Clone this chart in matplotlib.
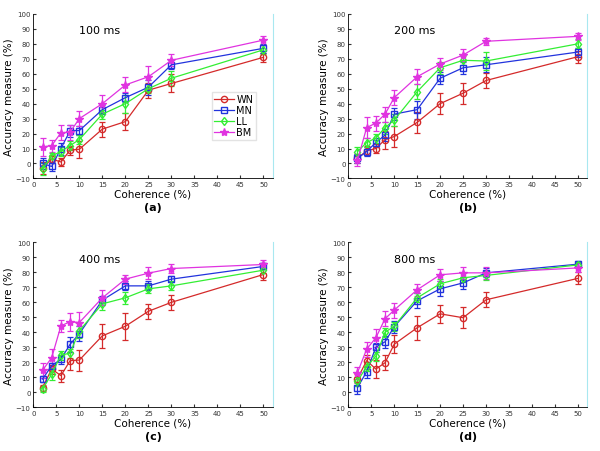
import numpy as np
import matplotlib.pyplot as plt
from matplotlib.lines import Line2D

# Coherence levels (%)
coherence = [2, 4, 6, 8, 10, 15, 20, 25, 30, 50]
methods = ['WN', 'MN', 'LL', 'BM']
durations = ['100 ms', '200 ms', '400 ms', '800 ms']
panel_labels = ['(a)', '(b)', '(c)', '(d)']

# accuracy means, one list per method, per panel
acc_100 = {
    'WN': [-3, 3, 1, 9, 9.5, 23, 28, 49, 53.5, 71],
    'MN': [0, -2, 10, 22, 22, 36, 44, 51, 66, 77],
    'LL': [-3.7, 5, 8, 12, 16, 33, 40, 50, 57, 76],
    'BM': [11, 12, 20.5, 21, 30, 40, 52.5, 58, 69, 82.5],
}
err_100 = {
    'WN': [4, 3, 3, 3, 5.5, 5, 5.5, 5, 6, 3],
    'MN': [4, 3, 4, 4, 3, 3, 3, 5, 3, 3],
    'LL': [4, 2, 3, 3, 3, 3, 6, 3, 5, 3],
    'BM': [6, 4, 5, 5, 5, 6, 5, 7, 4, 3],
}

acc_200 = {
    'WN': [3.4, 8.5, 10, 16, 18, 27.5, 40, 47, 55.5, 71.4],
    'MN': [3.4, 8, 14, 19, 33, 36, 57, 64, 66, 74.5],
    'LL': [8, 14, 17, 24, 29, 48, 64, 69, 68.5, 80],
    'BM': [2, 24, 27, 33, 44, 58, 66.5, 72.5, 81.7, 85],
}
err_200 = {
    'WN': [3, 3, 3, 6, 7, 7, 7, 7, 5, 4],
    'MN': [3, 3, 3, 4, 4, 6, 4, 4, 5, 3],
    'LL': [3, 3, 3, 4, 4, 5, 4, 3, 6, 3],
    'BM': [4, 7, 5, 5, 5, 5, 4, 4, 2.5, 2.5],
}

acc_400 = {
    'WN': [3, 15.4, 11, 21, 21.4, 37.6, 44, 54, 60, 78.6],
    'MN': [8.7, 17.6, 22, 32, 39, 61.5, 71, 71, 75.5, 84],
    'LL': [2, 12, 24.7, 26, 41, 59, 63, 69, 71, 81.5],
    'BM': [14.5, 23, 44.3, 47, 46.5, 63, 75.5, 79.5, 82.6, 85.3],
}
err_400 = {
    'WN': [2, 3, 4, 6, 7, 8, 9, 5, 5, 4],
    'MN': [2, 2, 3, 5, 5, 3, 3, 3, 2, 2],
    'LL': [2, 4, 3, 3, 5, 4, 4, 3, 3, 2],
    'BM': [5, 6, 4, 6, 7, 5, 3, 4, 3, 3],
}

acc_800 = {
    'WN': [9, 21, 15.4, 19.6, 32, 43, 52.3, 49.7, 61.7, 76],
    'MN': [3, 13.6, 30, 33.6, 43.7, 61, 69, 73, 79.7, 85.5],
    'LL': [7.3, 17, 24, 40, 44, 63, 72.4, 76.4, 78, 85],
    'BM': [13, 28.7, 36.3, 49, 54.8, 68.4, 78.4, 79.7, 79.7, 83],
}
err_800 = {
    'WN': [3, 4, 6, 5, 6, 8, 6, 7, 5, 4],
    'MN': [4, 4, 3, 4, 4, 5, 5, 4, 3, 2],
    'LL': [3, 3, 3, 3, 3, 3, 3, 3, 3, 2],
    'BM': [4, 5, 6, 5, 5, 4, 4, 4, 4, 3],
}

all_acc = [acc_100, acc_200, acc_400, acc_800]
all_err = [err_100, err_200, err_400, err_800]

colors = {'WN': '#d42a2a', 'MN': '#2233dd', 'LL': '#33ee33', 'BM': '#e033e0'}
markers = {'WN': 'o', 'MN': 's', 'LL': 'd', 'BM': '*'}

def marker_style(m):
    return dict(color=colors[m], marker=markers[m],
                markersize=6 if m == 'BM' else 4.5,
                mfc='none' if m != 'BM' else colors[m], mec=colors[m], lw=0.9)

fig = plt.figure(figsize=(6, 4.52), dpi=100)
positions = [
    [0.0555, 0.603, 0.399, 0.364],
    [0.5805, 0.603, 0.398, 0.364],
    [0.0555, 0.0973, 0.399, 0.364],
    [0.5805, 0.0973, 0.398, 0.364],
]

for k in range(4):
    ax = fig.add_axes(positions[k])
    for m in methods:
        ax.errorbar(coherence, all_acc[k][m], yerr=all_err[k][m],
                    elinewidth=0.9, capsize=2, capthick=0.9, label=m,
                    **marker_style(m))
    ax.set_xlim(0, 52)
    ax.set_ylim(-10, 100)
    ax.set_xticks(np.arange(0, 51, 5))
    ax.set_yticks(np.arange(-10, 101, 10))
    ax.tick_params(direction='in', length=2, labelsize=5, colors='#333333',
                   pad=2)
    ax.spines['top'].set_visible(False)
    ax.spines['right'].set_color('#a8e8f0')
    ax.spines['left'].set_linewidth(0.6)
    ax.spines['bottom'].set_linewidth(0.6)
    ax.set_xlabel('Coherence (%)', fontsize=7.5, labelpad=1)
    ax.set_ylabel('Accuracy measure (%)', fontsize=7.5, labelpad=1)
    ax.text(10, 89, durations[k], fontsize=8, va='center')
    ax.text(0.5, -0.175, panel_labels[k], transform=ax.transAxes,
            ha='center', va='center', fontsize=8, fontweight='bold')
    if k == 0:
        handles = [Line2D([], [], **marker_style(m)) for m in methods]
        ax.legend(handles, methods, loc='upper left',
                  bbox_to_anchor=(0.745, 0.525),
                  fontsize=7, frameon=True, fancybox=False,
                  edgecolor='#dddddd', handlelength=2.0, borderpad=0.25,
                  labelspacing=0.1, handletextpad=0.3, borderaxespad=0)

fig.savefig('out.png', dpi=100)
